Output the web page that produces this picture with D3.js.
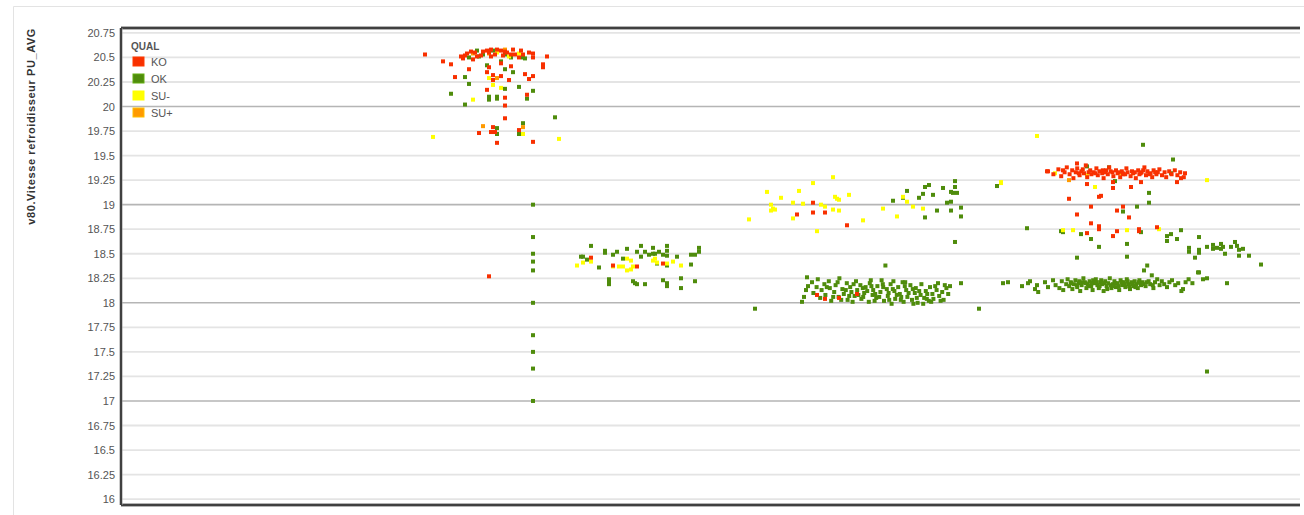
<!DOCTYPE html>
<html>
<head>
<meta charset="utf-8">
<script src="https://cdn.jsdelivr.net/npm/d3@7/dist/d3.min.js"></script>
<style>
  html, body { margin: 0; padding: 0; background: #fff; }
  svg { display: block; }
</style>
</head>
<body>
<svg id="chart" width="1304" height="515"></svg>
<script>
// Quality classes and their colours
const categories = ["KO", "OK", "SU-", "SU+"];
const colors = ["#f83000", "#4f8c0c", "#ffff00", "#ff9a00"];

// Y axis tick labels (v80 cooler speed, PU average)
const yTicks = [16, 16.25, 16.5, 16.75, 17, 17.25, 17.5, 17.75, 18, 18.25, 18.5, 18.75,
                19, 19.25, 19.5, 19.75, 20, 20.25, 20.5, 20.75];
const majorTicks = [17, 18, 19, 20];

// Measurements per quality class: [sequence, value]
const koPoints = [
  [152,20.53],[170,20.51],[171,20.49],[176,20.48],[177,20.55],[180,20.52],[183,20.57],[184,20.55],[185,20.51],[187,20.53],
  [190,20.57],[191,20.52],[193,20.55],[196,20.58],[197,20.53],[201,20.53],[206,20.54],[206,20.50],[213,20.51],[181,20.56],
  [178,20.51],[173,20.54],[199,20.50],[161,20.46],[165,20.43],[190,20.44],[195,20.41],[211,20.43],[211,20.40],[184,20.40],
  [174,20.38],[183,20.35],[167,20.30],[186,20.32],[190,20.31],[186,20.27],[194,20.27],[202,20.33],[206,20.31],[204,20.28],
  [183,20.17],[192,20.09],[203,20.12],[192,20.01],[192,19.88],[184,18.27],[186,19.79],[185,19.74],[187,19.74],[179,19.73],
  [199,19.76],[188,19.63],[206,19.64],[175,20.56],[188,20.58],[192,20.56],[200,20.57],[204,20.55],[172,20.52],[195,20.53],[185,20.58],
  [235,18.46],[246,18.38],[258,18.37],[271,18.40],
  [346,19.02],[338,18.90],[346,18.92],[352,18.92],[363,18.79],
  [348,18.08],[352,18.04],[359,18.05],[368,18.09],
  [463,19.34],[471,19.35],[478,19.42],[483,19.21],[496,19.17],[496,19.23],[505,19.18],[510,19.23],[528,19.23],[530,19.27],
  [532,19.32],[474,19.06],[489,19.08],[490,19.09],[485,18.98],[501,18.98],[498,18.94],[478,18.90],[504,18.87],[485,18.81],
  [489,18.78],[489,18.75],[483,18.71],[496,18.68],[498,18.73],[509,18.75],[509,18.73],[518,18.77],
  [463.5,19.34],[466.2,19.31],[468.7,19.36],[470.1,19.29],[471.8,19.33],[472.9,19.38],[474.3,19.31],[475.6,19.35],[476.2,19.27],
  [477.4,19.33],[478.1,19.37],[479.3,19.30],[480.2,19.34],[481.5,19.32],[482.4,19.40],[483.1,19.28],[484.6,19.35],[485.2,19.31],
  [486.3,19.33],[487.7,19.37],[488.4,19.30],[489.2,19.34],[490.6,19.32],[491.3,19.27],[492.5,19.35],[493.4,19.31],[494.1,19.38],
  [495.7,19.33],[496.2,19.29],[497.5,19.35],[498.3,19.32],[499.6,19.28],[500.4,19.34],[501.1,19.31],[502.7,19.37],[503.3,19.33],
  [504.8,19.29],[505.5,19.34],[506.1,19.32],[507.4,19.27],[508.6,19.35],[509.2,19.31],[510.3,19.33],[511.7,19.38],[512.5,19.30],
  [513.2,19.34],[514.8,19.32],[515.6,19.28],[516.3,19.35],[517.7,19.31],[518.4,19.33],[519.2,19.36],[520.5,19.30],[521.8,19.33],
  [522.6,19.28],[524.1,19.34],[525.3,19.31],[526.9,19.35],[528.2,19.30],[529.6,19.33],[531.4,19.28],[483.8,19.33],[487.1,19.32],
  [490.9,19.35],[494.8,19.34],[498.9,19.33],[502.1,19.31],[506.9,19.33],[511.1,19.35],[514.3,19.31],[478.9,19.32],[480.9,19.36],
  [492.1,19.33],[500.9,19.32],[509.8,19.32],[517.1,19.33]
];

const okPoints = [
  [174,20.50],[178,20.57],[179,20.51],[181,20.53],[186,20.57],[192,20.53],[195,20.50],[201,20.50],[202,20.49],[190,20.46],
  [183,20.42],[192,20.38],[196,20.35],[172,20.30],[174,20.23],[199,20.20],[192,20.18],[206,20.16],[165,20.13],[184,20.10],
  [184,20.07],[188,20.10],[188,20.08],[203,20.08],[172,20.02],[217,19.89],[201,19.83],[188,19.78],[188,19.72],[199,19.72],
  [206,19.00],[206,18.67],[206,18.50],[206,18.42],[206,18.33],[206,18.00],[206,17.67],[206,17.50],[206,17.33],[206,17.00],
  [235,18.58],[242,18.53],[242,18.51],[248,18.52],[246,18.49],[253,18.55],[258,18.52],[260,18.58],[260,18.47],[262,18.52],
  [264,18.49],[266,18.56],[266,18.50],[267,18.50],[269,18.52],[271,18.49],[273,18.58],[273,18.53],[273,18.48],[278,18.47],
  [285,18.49],[287,18.49],[289,18.56],[289,18.52],[230,18.47],[231,18.47],[233,18.44],[251,18.45],[239,18.36],[285,18.39],
  [268,18.40],[273,18.38],[244,18.24],[244,18.21],[244,18.19],[256,18.22],[257,18.20],[258,18.19],[262,18.19],[271,18.23],
  [273,18.20],[273,18.17],[280,18.25],[280,18.15],[287,18.22],
  [386,19.04],[393,19.14],[391,19.07],[399,19.07],[401,19.11],[402,19.18],[404,19.20],[406,19.10],[411,19.17],[415,19.13],
  [417,19.24],[417,19.18],[416,19.12],[418,19.12],[413,19.02],[415,19.03],[408,18.94],[415,18.94],[420,18.97],[420,18.88],
  [402,18.87],[417,18.62],[438,19.19],
  [317,17.94],[340.5,18.01],[341.5,18.06],[342.5,18.13],[343.5,18.17],[343,18.26],[345.5,18.21],[346.2,18.10],[347.8,18.16],
  [348.4,18.24],[349.6,18.05],[350.3,18.13],[351.7,18.19],[352.2,18.08],[353.9,18.22],[354.4,18.15],[355.1,18.02],[356.6,18.11],
  [357.3,18.18],[358.8,18.06],[359.2,18.25],[360.7,18.14],[361.4,18.09],[362.9,18.20],[363.3,18.03],[364.6,18.16],[365.2,18.11],
  [366.8,18.07],[367.5,18.22],[368.1,18.13],[369.7,18.18],[370.2,18.04],[371.6,18.10],[372.3,18.16],[373.9,18.01],[374.4,18.20],
  [375.8,18.08],[376.1,18.13],[377.6,18.05],[378.2,18.17],[379.7,18.11],[380.3,18.23],[381.5,18.02],[382.2,18.38],[382.9,18.14],
  [383.4,18.07],[384.8,18.19],[385.3,17.99],[386.7,18.12],[387.1,18.04],[388.6,18.16],[389.4,18.09],[390.8,18.21],[391.3,18.01],
  [392.6,18.13],[393.2,18.06],[394.7,18.18],[395.5,18.03],[396.9,18.10],[397.4,18.15],[398.3,18.00],[399.8,18.08],[400.2,18.19],
  [401.6,18.05],[402.4,18.12],[403.9,18.02],[404.5,18.16],[405.7,18.09],[406.2,18.04],[407.8,18.13],[408.5,18.20],[409.1,18.07],
  [410.6,18.11],[411.3,18.03],[412.7,18.15],[413.6,18.09],[414.5,18.17],[420,18.20],[429,17.94],
  [352.9,18.16],[356.1,18.06],[358.3,18.21],[360.1,18.03],[362.4,18.13],[364.1,18.07],[366.3,18.19],[368.7,18.08],[370.9,18.15],
  [373.1,18.12],[375.2,18.17],[377.1,18.09],[379.1,18.06],[381.1,18.16],[383.8,18.10],[385.9,18.14],[387.9,18.08],[389.9,18.03],
  [391.9,18.17],[393.8,18.10],[395.9,18.14],[397.9,18.05],[399.1,18.12],[401.1,17.99],[403.1,18.09],[405.1,18.01],[407.1,18.17],
  [409.8,18.02],[411.9,18.18],[365.8,18.01],[371.1,18.06],[376.8,18.02],[384.1,18.03],[390.1,18.06],[396.2,17.99],[402.9,18.04],
  [374.9,18.23],[380.9,18.19],[386.2,18.22],[392.1,18.21],
  [441,18.20],[443.5,18.21],[450.5,18.17],[453.5,18.20],[454.5,18.22],[457,18.14],[458,18.18],[458.6,18.11],[462,18.21],
  [463.5,18.16],[466,18.23],[467.3,18.18],[469.2,18.15],[470.4,18.22],[471.1,18.13],[472.6,18.19],[473.3,18.24],[474.1,18.17],
  [474.9,18.21],[475.7,18.14],[476.4,18.19],[477.2,18.23],[478.1,18.16],[478.8,18.20],[479.6,18.12],[480.3,18.18],[481.2,18.25],
  [481.9,18.21],[482.7,18.15],[483.4,18.19],[484.3,18.22],[485.1,18.17],[485.8,18.13],[486.6,18.20],[487.4,18.24],[488.2,18.18],
  [488.9,18.15],[489.7,18.21],[490.5,18.19],[491.3,18.12],[492.1,18.22],[492.8,18.17],[493.6,18.20],[494.4,18.25],[495.2,18.15],
  [495.9,18.19],[496.7,18.22],[497.5,18.16],[498.3,18.20],[499.1,18.13],[499.8,18.23],[500.6,18.18],[501.4,18.21],[502.2,18.16],
  [502.9,18.24],[503.7,18.19],[504.5,18.14],[505.3,18.21],[506.1,18.17],[506.8,18.22],[507.6,18.19],[508.4,18.15],[509.2,18.23],
  [510.0,18.18],[510.7,18.21],[511.5,18.33],[512.3,18.17],[513.1,18.38],[513.8,18.22],[514.6,18.19],[515.4,18.28],[516.2,18.15],
  [517.0,18.21],[518.1,18.24],[519.3,18.18],[520.4,18.22],[521.6,18.19],[523.0,18.16],[524.2,18.21],[525.5,18.23],[527.1,18.18],
  [528.6,18.20],[530.2,18.12],[531.0,18.14],[532.3,18.21],[533.8,18.24],[535.7,18.20],[538.5,18.31],[541,18.24],[543,18.25],[553,18.20],
  [475.1,18.20],[477.9,18.18],[480.8,18.21],[483.9,18.17],[486.1,18.23],[487.9,18.21],[489.3,18.17],[491.6,18.20],[493.1,18.14],
  [494.9,18.18],[497.1,18.20],[498.8,18.17],[500.3,18.21],[501.9,18.19],[503.3,18.22],[505.8,18.19],[507.2,18.16],[509.6,18.20],
  [511.1,18.19],[512.8,18.21],[479.1,18.22],[482.3,18.20],[485.4,18.20],[490.1,18.23],[496.3,18.17],[504.1,18.17],[508.8,18.21],[515.9,18.18],
  [511,19.61],[526,19.46],[483,19.39],[494,19.38],[525,19.32],[497,19.24],[438,19.19],[514,19.12],[514,19.02],[508,18.98],[501,18.93],
  [453,18.76],[470,18.73],[471,18.72],[480,18.70],[485,18.65],[489,18.57],[503,18.60],[510,18.72],[523,18.68],[525,18.70],
  [523,18.63],[528,18.65],[530,18.74],[539,18.67],[503,18.47],[478,18.46],
  [534,18.56],[534,18.52],[537,18.46],[539,18.54],[539,18.51],[543,18.57],[546,18.59],[550,18.60],[546,18.55],[548,18.56],
  [550,18.55],[551,18.57],[552,18.50],[555,18.57],[557,18.62],[558,18.58],[559,18.54],[561,18.55],[559,18.48],[564,18.48],
  [570,18.39],[539,18.31],[543,17.30]
];

const suMinusPoints = [
  [188,20.55],[194,20.51],[199,20.54],[184,20.29],[186,20.22],[190,20.19],[176,20.07],[201,19.72],[156,19.69],[219,19.67],
  [228,18.38],[231,18.41],[235,18.42],[253,18.45],[255,18.43],[249,18.37],[251,18.37],[253,18.33],[255,18.34],[256,18.37],
  [246,18.37],[266,18.43],[267,18.45],[268,18.41],[276,18.42],[280,18.38],[273,18.40],
  [356,19.28],[346,19.22],[323,19.13],[339,19.14],[330,19.07],[336,19.02],[341,19.01],[325,19.00],[325,18.94],[326,18.96],
  [327,18.95],[350,19.00],[352,18.98],[357,19.08],[358,19.06],[359,19.05],[364,19.10],[356,18.95],[359,18.94],[336,18.86],
  [314,18.85],[348,18.73],[371,18.84],[381,18.96],[388,18.88],[391,19.08],[393,19.03],[396,18.98],[401,18.96],[440,19.22],
  [458,19.70],[440,19.23],[467,19.32],[483,19.30],[487,19.18],[500,19.32],[506,19.32],[543,19.25],[471,18.74],[476,18.74],
  [503,18.74],[519,18.75]
];

const suPlusPoints = [
  [184,20.54],[192,20.58],[176,20.54],[188,20.29],[201,19.79],[181,19.80],[474,19.25]
];

const seriesPoints = [koPoints, okPoints, suMinusPoints, suPlusPoints];

const svg = d3.select("#chart");
const W = 1304, H = 515;
const plot = { left: 121, right: 1300, top: 28, bottom: 505 };

const x = d3.scaleLinear().domain([0, 589.5]).range([plot.left, plot.right]);
const y = d3.scaleLinear().domain([15.94, 20.80]).range([plot.bottom, plot.top]);
const color = d3.scaleOrdinal().domain(categories).range(colors);

// Outer panel border
svg.append("path")
  .attr("d", `M13.5,${H} V6.5 H${W}`)
  .attr("fill", "none").attr("stroke", "#e3e3e3").attr("stroke-width", 1);

// Horizontal gridlines
svg.append("g").selectAll("line").data(yTicks).join("line")
  .attr("x1", plot.left).attr("x2", plot.right)
  .attr("y1", d => y(d)).attr("y2", d => y(d))
  .attr("stroke", d => majorTicks.includes(d) ? "#b5b5b5" : "#e4e4e4")
  .attr("stroke-width", d => majorTicks.includes(d) ? 1.6 : 1.8);

// Y axis labels
const yAxis = d3.axisLeft(y).tickValues(yTicks).tickSize(0).tickPadding(6)
  .tickFormat(d => String(d));
const gy = svg.append("g").attr("transform", `translate(${plot.left},0)`).call(yAxis);
gy.select(".domain").remove();
gy.selectAll("text")
  .attr("font-family", "Liberation Sans, Arial, sans-serif")
  .attr("font-size", 11).attr("fill", "#555");

// Y axis title
svg.append("text")
  .attr("transform", "translate(34.5,28) rotate(-90)")
  .attr("text-anchor", "end")
  .attr("font-family", "Liberation Sans, Arial, sans-serif")
  .attr("font-size", 11).attr("font-weight", "bold").attr("fill", "#333")
  .attr("letter-spacing", 0.6)
  .text("v80.Vitesse refroidisseur PU_AVG");

// Plot frame (left, top, bottom)
const frame = svg.append("g");
[[plot.left, plot.top, plot.right, plot.top], [plot.left, plot.bottom, plot.right, plot.bottom]].forEach(s => {
  frame.append("line").attr("x1", s[0]).attr("y1", s[1]).attr("x2", s[2]).attr("y2", s[3])
    .attr("stroke", "#9a9a9a").attr("stroke-width", 3.5);
  frame.append("line").attr("x1", s[0]).attr("y1", s[1]).attr("x2", s[2]).attr("y2", s[3])
    .attr("stroke", "#222").attr("stroke-width", 1.5);
});
frame.append("line").attr("x1", plot.left).attr("x2", plot.left)
  .attr("y1", plot.top).attr("y2", plot.bottom)
  .attr("stroke", "#9a9a9a").attr("stroke-width", 3);
frame.append("line").attr("x1", plot.left).attr("x2", plot.left)
  .attr("y1", plot.top).attr("y2", plot.bottom)
  .attr("stroke", "#222").attr("stroke-width", 1.5);

// Scatter markers, drawn OK first so the other classes stay visible
const drawOrder = [1, 2, 3, 0];
const S = 4;
const marks = svg.append("g");
drawOrder.forEach(i => {
  marks.append("g").selectAll("rect").data(seriesPoints[i]).join("rect")
    .attr("x", d => x(d[0]) - S / 2)
    .attr("y", d => y(d[1]) - S / 2)
    .attr("width", S).attr("height", S)
    .attr("fill", color(categories[i]));
});

// Legend
const legend = svg.append("g").attr("transform", "translate(131,0)");
legend.append("text").attr("x", 0).attr("y", 50)
  .attr("font-family", "Liberation Sans, Arial, sans-serif")
  .attr("font-size", 10).attr("font-weight", "bold").attr("fill", "#555")
  .text("QUAL");
const rows = legend.selectAll("g.row").data(categories).join("g")
  .attr("class", "row")
  .attr("transform", (d, i) => `translate(0,${57 + i * 17})`);
rows.append("rect").attr("x", 2).attr("y", 0).attr("width", 11).attr("height", 9)
  .attr("fill", d => color(d))
  .attr("stroke", d => d3.color(color(d)).brighter(0.6)).attr("stroke-width", 1);
rows.append("text").attr("x", 20).attr("y", 8.5)
  .attr("font-family", "Liberation Sans, Arial, sans-serif")
  .attr("font-size", 11).attr("fill", "#555")
  .text(d => d);
</script>
</body>
</html>
